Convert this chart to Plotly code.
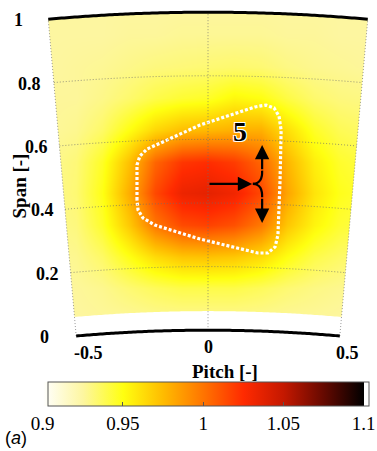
import numpy as np
import plotly.graph_objects as go

# ---------------------------------------------------------------------------
# Normalised quantity on the measurement plane (pitch across, span up)
# ---------------------------------------------------------------------------
pitch = [-0.6, -0.5, -0.4, -0.3, -0.2, -0.1, 0.0, 0.1, 0.2, 0.3, 0.4, 0.5, 0.6]
span = [0.05, 0.15, 0.25, 0.35, 0.45, 0.55, 0.65, 0.75, 0.85, 0.95, 1.05]

row_005 = [0.925, 0.925, 0.926, 0.926, 0.927, 0.927, 0.927, 0.927, 0.927, 0.926, 0.926, 0.925, 0.925]
row_015 = [0.925, 0.926, 0.928, 0.933, 0.937, 0.940, 0.940, 0.940, 0.937, 0.933, 0.930, 0.928, 0.928]
row_025 = [0.926, 0.928, 0.935, 0.949, 0.963, 0.971, 0.972, 0.970, 0.963, 0.950, 0.940, 0.935, 0.933]
row_035 = [0.928, 0.931, 0.945, 0.970, 0.999, 1.014, 1.017, 1.012, 0.998, 0.971, 0.954, 0.944, 0.940]
row_045 = [0.928, 0.933, 0.949, 0.980, 1.015, 1.033, 1.036, 1.031, 1.015, 0.983, 0.960, 0.948, 0.944]
row_055 = [0.928, 0.932, 0.946, 0.973, 1.005, 1.021, 1.024, 1.019, 1.005, 0.977, 0.956, 0.945, 0.941]
row_065 = [0.926, 0.928, 0.935, 0.950, 0.965, 0.974, 0.976, 0.979, 0.979, 0.962, 0.946, 0.938, 0.935]
row_075 = [0.926, 0.926, 0.929, 0.934, 0.940, 0.944, 0.946, 0.953, 0.950, 0.941, 0.934, 0.931, 0.930]
row_085 = [0.925, 0.926, 0.927, 0.929, 0.931, 0.932, 0.933, 0.934, 0.933, 0.930, 0.928, 0.927, 0.926]
row_095 = [0.925, 0.925, 0.925, 0.926, 0.926, 0.927, 0.927, 0.927, 0.927, 0.926, 0.926, 0.925, 0.925]
row_105 = [0.925, 0.925, 0.925, 0.925, 0.925, 0.925, 0.925, 0.925, 0.925, 0.925, 0.925, 0.925, 0.925]
field = [row_005, row_015, row_025, row_035, row_045, row_055,
         row_065, row_075, row_085, row_095, row_105]

# Region outline (vortex core 5) in plane coordinates
region_pitch = [-0.269, -0.269, -0.258, -0.231, -0.030, 0.178, 0.220, 0.250, 0.269,
                0.277, 0.273, 0.265, 0.254, 0.227, 0.189, -0.030, -0.201, -0.246,
                -0.265, -0.269]
region_span = [0.429, 0.540, 0.568, 0.590, 0.666, 0.723, 0.729, 0.720, 0.694,
               0.650, 0.492, 0.319, 0.281, 0.262, 0.262, 0.306, 0.350, 0.372,
               0.398, 0.429]
region_label = "5"
region_label_pos = (0.121, 0.644)

# Migration arrows: approach, then split towards tip and hub
approach_from = (0.0, 0.480)
approach_to = (0.167, 0.480)
fork_up_pitch = [0.170, 0.186, 0.198, 0.204, 0.205]
fork_up_span = [0.480, 0.483, 0.492, 0.506, 0.522]
fork_dn_pitch = [0.170, 0.186, 0.198, 0.204, 0.205]
fork_dn_span = [0.480, 0.477, 0.468, 0.454, 0.438]
up_to = (0.205, 0.603)
dn_to = (0.205, 0.357)

span_ticks = [0.0, 0.2, 0.4, 0.6, 0.8, 1.0]
span_ticktext = ["0", "0.2", "0.4", "0.6", "0.8", "1"]
pitch_ticks = [-0.5, 0.0, 0.5]
pitch_ticktext = ["-0.5", "0", "0.5"]
cbar_ticks = [0.9, 0.95, 1.0, 1.05, 1.0999]
cbar_ticktext = ["0.9", "0.95", "1", "1.05", "1.1"]
data_span_min = 0.06

# ---------------------------------------------------------------------------
# Annular-sector geometry (hub/tip radii in screen units, half opening angle)
# ---------------------------------------------------------------------------
R_HUB, R_TIP, HALF = 1500.0, 1818.0, 0.088
SX, SY = 264.0, 316.8          # screen units per plane unit (x, y)


def to_xy(p, s):
    p = np.asarray(p, dtype=float)
    s = np.asarray(s, dtype=float)
    r = R_HUB + (R_TIP - R_HUB) * s
    phi = 2.0 * HALF * p
    return r * np.sin(phi) / SX, (r * np.cos(phi) - R_HUB * np.cos(HALF)) / SY


def svg(xs, ys, close=False):
    pts = " L ".join(f"{a:.5f},{b:.5f}" for a, b in zip(xs, ys))
    return "M " + pts + (" Z" if close else "")


FS = "Liberation Serif"
X_RANGE = [-0.63636, 0.63636]
Y_RANGE = [-0.02841, 1.04798]

cscale = [
    [0.0, "#ffffff"],
    [0.125, "#fdf6a0"],
    [0.25, "#ffff10"],
    [0.375, "#ffbb00"],
    [0.5, "#ff7400"],
    [0.625, "#ff2a00"],
    [0.75, "#c41800"],
    [0.875, "#650900"],
    [1.0, "#000000"],
]

fig = go.Figure()
fig.add_trace(go.Heatmap(
    x=pitch, y=span, z=field, zmin=0.9, zmax=1.1, zsmooth="best",
    colorscale=cscale, hoverinfo="skip",
    colorbar=dict(
        orientation="h", xref="container", yref="container",
        x=228.0 / 377, xanchor="center", y=(451 - 382) / 451, yanchor="top",
        len=321, lenmode="pixels", thickness=24, thicknessmode="pixels",
        xpad=0, ypad=0, outlinecolor="#555", outlinewidth=1,
        tickvals=cbar_ticks, ticktext=cbar_ticktext,
        ticks="inside", ticklen=4, tickcolor="#555",
        ticklabeloverflow="allow",
        tickfont=dict(family=FS, size=19, color="black"),
    ),
))

# Region outline (white dotted)
fig.add_trace(go.Scatter(x=region_pitch, y=region_span, mode="lines", hoverinfo="skip",
                         line=dict(color="white", width=3.2, dash="3px,2px")))

# Fork of the migration arrow
for fp, fs in ((fork_up_pitch, fork_up_span), (fork_dn_pitch, fork_dn_span)):
    fig.add_trace(go.Scatter(x=fp, y=fs, mode="lines", hoverinfo="skip",
                             line=dict(color="black", width=2.2, shape="spline")))

shapes = []
# White mask outside the coloured part of the sector
pp = np.linspace(-0.5, 0.5, 121)
tx, ty = to_xy(pp, np.ones_like(pp))
bx, by = to_xy(pp[::-1], np.full_like(pp, data_span_min))
sector = svg(np.r_[tx, bx], np.r_[ty, by], close=True)
box = svg([-1, 1, 1, -1], [-0.2, -0.2, 1.2, 1.2], close=True)
shapes.append(dict(type="path", path=box + " " + sector, xref="x", yref="y",
                   fillcolor="white", fillrule="evenodd", line=dict(width=0),
                   layer="above"))

grid_line = dict(color="rgba(110,110,110,0.7)", width=1, dash="1px,2px")
for s in [0.2, 0.4, 0.6, 0.8]:
    gx, gy = to_xy(pp, np.full_like(pp, s))
    shapes.append(dict(type="path", path=svg(gx, gy), xref="x", yref="y",
                       line=grid_line, layer="above"))
ss = np.linspace(0, 1, 11)
for p in [-0.5, 0.0, 0.5]:
    gx, gy = to_xy(np.full_like(ss, p), ss)
    shapes.append(dict(type="path", path=svg(gx, gy), xref="x", yref="y",
                       line=grid_line, layer="above"))

# Hub and casing walls
for s in (0.0, 1.0):
    wx, wy = to_xy(pp, np.full_like(pp, s))
    shapes.append(dict(type="path", path=svg(wx, wy), xref="x", yref="y",
                       line=dict(color="black", width=3), layer="above"))

ann = []
span_xshift = [-25, -10, -9, -9, -11, -23]
for s, t, dx in zip(span_ticks, span_ticktext, span_xshift):
    ex, ey = to_xy(-0.5, s)
    ann.append(dict(x=float(ex), y=float(ey), xref="x", yref="y", text=t,
                    showarrow=False, xanchor="right", yanchor="middle",
                    xshift=dx, yshift=-1,
                    font=dict(family=FS, size=18, color="black", weight="bold")))
pitch_xshift = [12, 0, 8]
for p, t, dx in zip(pitch_ticks, pitch_ticktext, pitch_xshift):
    ex, ey = to_xy(p, 0.0)
    ann.append(dict(x=float(ex), y=float(ey), xref="x", yref="y", text=t,
                    showarrow=False, xanchor="center", yanchor="middle",
                    xshift=dx, yshift=-17,
                    font=dict(family=FS, size=18, color="black", weight="bold")))


def paper(px, py):
    return (px - 40) / 336.0, (345 - py) / 341.0


ax_, ay_ = paper(18.5, 186)
ann.append(dict(x=ax_, y=ay_, xref="paper", yref="paper", text="Span [-]",
                textangle=-90, showarrow=False, xanchor="center", yanchor="middle",
                font=dict(family=FS, size=19, color="black", weight="bold")))
ax_, ay_ = paper(225, 371)
ann.append(dict(x=ax_, y=ay_, xref="paper", yref="paper", text="Pitch [-]",
                showarrow=False, xanchor="center", yanchor="middle",
                font=dict(family=FS, size=19, color="black", weight="bold")))
ax_, ay_ = paper(16, 438)
ann.append(dict(x=ax_, y=ay_, xref="paper", yref="paper", text="(<i>a</i>)",
                showarrow=False, xanchor="center", yanchor="middle",
                font=dict(family="Liberation Sans", size=18, color="black")))

# Region label with a white halo
ann.append(dict(x=region_label_pos[0], y=region_label_pos[1], xref="x", yref="y",
                text=region_label, showarrow=False,
                font=dict(family=FS, size=28, color="black", weight="bold",
                          shadow="-1px -1px 0 #fff, 1px -1px 0 #fff, -1px 1px 0 #fff, 1px 1px 0 #fff")))

# Arrows
for (x0, y0), (x1, y1) in ((approach_from, approach_to),
                           ((fork_up_pitch[-1], fork_up_span[-1]), up_to),
                           ((fork_dn_pitch[-1], fork_dn_span[-1]), dn_to)):
    ann.append(dict(x=x1, y=y1, ax=x0, ay=y0, xref="x", yref="y",
                    axref="x", ayref="y", text="", showarrow=True,
                    arrowhead=2, arrowsize=1.3, arrowwidth=2.2,
                    arrowcolor="black", standoff=0))

fig.update_layout(
    width=377, height=451,
    margin=dict(l=40, r=1, t=4, b=106),
    paper_bgcolor="white", plot_bgcolor="white",
    showlegend=False,
    xaxis=dict(range=X_RANGE, visible=False, fixedrange=True),
    yaxis=dict(range=Y_RANGE, visible=False, fixedrange=True),
    shapes=shapes, annotations=ann,
)

fig.write_html("out.html")
